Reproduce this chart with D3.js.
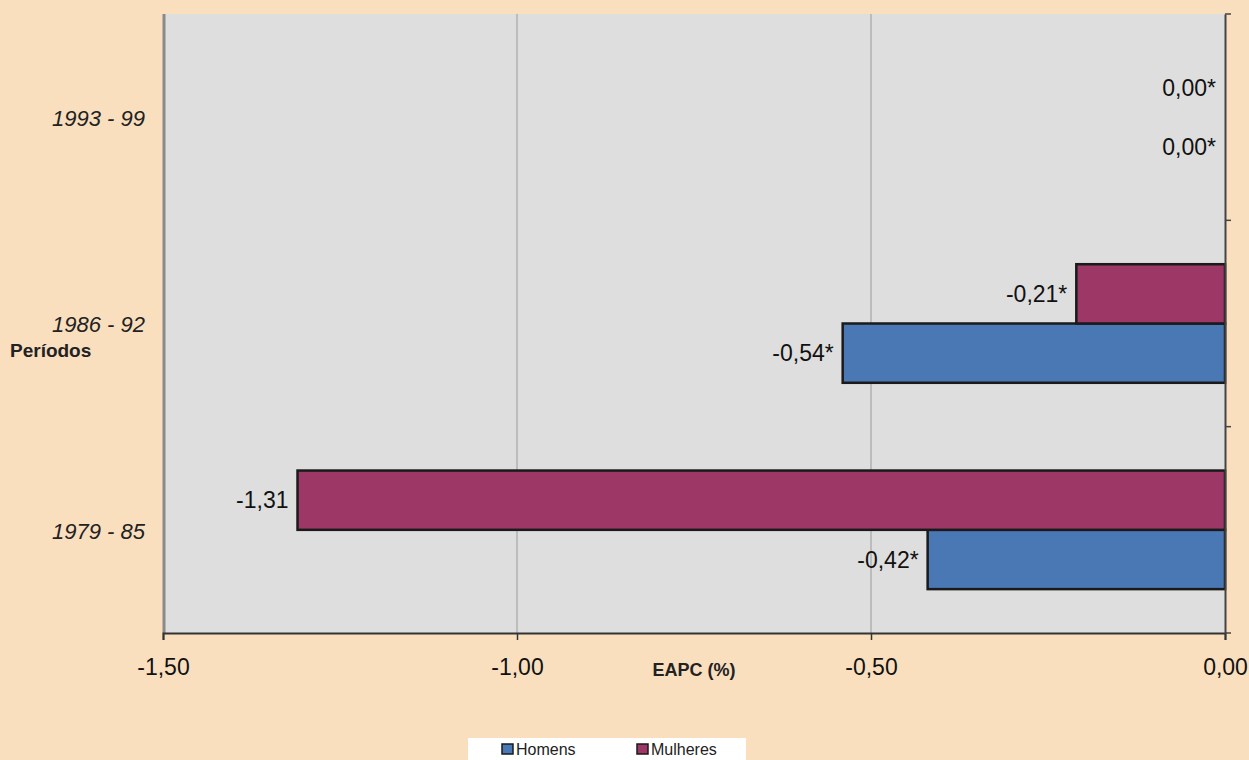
<!DOCTYPE html>
<html><head><meta charset="utf-8">
<script src="https://cdn.jsdelivr.net/npm/d3@7"></script>
<style>
html,body{margin:0;padding:0;background:#fadfbf;}
svg{display:block;font-family:"Liberation Sans",Arial,sans-serif;}
</style></head><body>
<svg id="c" width="1249" height="760"></svg>
<script>
const periods = ["1979 - 85", "1986 - 92", "1993 - 99"];
const seriesNames = ["Homens", "Mulheres"];
const homens = [-0.42, -0.54, 0.00];
const mulheres = [-1.31, -0.21, 0.00];
const homensLabels = ["-0,42*", "-0,54*", "0,00*"];
const mulheresLabels = ["-1,31", "-0,21*", "0,00*"];
const xTicks = [-1.5, -1.0, -0.5, 0.0];
const xTickLabels = ["-1,50", "-1,00", "-0,50", "0,00"];
const colors = {Homens: "#4a78b4", Mulheres: "#9c3766"};

const svg = d3.select("#c");
const L = 163, R = 1225, T = 14, B = 633;
const x = d3.scaleLinear().domain([-1.5, 0]).range([L, R]);
// bottom to top
const y = d3.scaleBand().domain(periods).range([B, T]).paddingInner(0).paddingOuter(0);
const inner = d3.scaleBand().domain(["Mulheres", "Homens"]).range([0, y.bandwidth()]).paddingInner(0).paddingOuter(0.74);

svg.append("rect").attr("x", L).attr("y", T).attr("width", R - L).attr("height", B - T).attr("fill", "#dedede");
svg.append("line").attr("x1", L + 1).attr("x2", L + 1).attr("y1", T).attr("y2", B).attr("stroke", "#8a8a8a").attr("stroke-width", 3);

// gridlines
svg.append("g").selectAll("line").data(xTicks.filter(d => d > -1.5 && d < 0)).join("line")
  .attr("x1", d => x(d)).attr("x2", d => x(d)).attr("y1", T).attr("y2", B)
  .attr("stroke", "#9a9a9a").attr("stroke-width", 1);

const data = [];
periods.forEach((p, i) => {
  data.push({p, s: "Homens", v: homens[i], lab: homensLabels[i]});
  data.push({p, s: "Mulheres", v: mulheres[i], lab: mulheresLabels[i]});
});

svg.append("g").selectAll("rect").data(data.filter(d => d.v !== 0)).join("rect")
  .attr("x", d => x(d.v)).attr("width", d => x(0) - x(d.v))
  .attr("y", d => y(d.p) + inner(d.s)).attr("height", inner.bandwidth())
  .attr("fill", d => colors[d.s]).attr("stroke", "#1a1a1a").attr("stroke-width", 2.5);

svg.append("g").selectAll("text").data(data).join("text")
  .attr("x", d => x(d.v) - 9).attr("y", d => y(d.p) + inner(d.s) + inner.bandwidth() / 2)
  .attr("dy", "0.35em").attr("text-anchor", "end").attr("font-size", 23).attr("fill", "#111")
  .text(d => d.lab);

// x axis
const xAxis = d3.axisBottom(x).tickValues(xTicks).tickFormat((d, i) => xTickLabels[i]).tickSize(7).tickPadding(19);
const gx = svg.append("g").attr("transform", `translate(0,${B})`).call(xAxis);
gx.select(".domain").attr("stroke", "#333").attr("stroke-width", 2);
gx.selectAll(".tick line").attr("stroke", "#333").attr("stroke-width", 1.5);
gx.selectAll(".tick text").attr("font-size", 23).attr("fill", "#111").attr("font-family", "'Liberation Sans',Arial,sans-serif");

// right vertical axis with ticks at band boundaries
const yAxis = d3.axisRight(y).tickValues([]).tickSizeOuter(0);
const gy = svg.append("g").attr("transform", `translate(${R},0)`).call(yAxis);
gy.select(".domain").attr("stroke", "#444").attr("stroke-width", 2);
const bounds = [B, ...periods.map(p => y(p))];
svg.append("g").selectAll("line").data(bounds).join("line")
  .attr("x1", R).attr("x2", R + 6).attr("y1", d => d).attr("y2", d => d)
  .attr("stroke", "#444").attr("stroke-width", 1.5);

// category labels
svg.append("g").selectAll("text").data(periods).join("text")
  .attr("x", 145).attr("y", d => y(d) + y.bandwidth() / 2 + 1)
  .attr("dy", "0.35em").attr("text-anchor", "end").attr("font-size", 22).attr("font-style", "italic").attr("fill", "#222")
  .text(d => d);

svg.append("text").attr("x", 10).attr("y", 357).attr("font-size", 19).attr("font-weight", "bold").attr("fill", "#222").text("Períodos");
svg.append("text").attr("x", 694).attr("y", 676).attr("text-anchor", "middle").attr("font-size", 18).attr("font-weight", "bold").attr("fill", "#222").text("EAPC (%)");

// legend
const lg = svg.append("g");
lg.append("rect").attr("x", 468).attr("y", 738).attr("width", 278).attr("height", 22).attr("fill", "#ffffff");
const legX = [501, 636];
seriesNames.forEach((s, i) => {
  lg.append("rect").attr("x", legX[i] + 1).attr("y", 744).attr("width", 11).attr("height", 10).attr("fill", colors[s]).attr("stroke", "#1a1a1a").attr("stroke-width", 1.5);
  lg.append("text").attr("x", legX[i] + 15).attr("y", 755).attr("font-size", 16).attr("fill", "#222").text(s);
});
</script>
</body></html>
